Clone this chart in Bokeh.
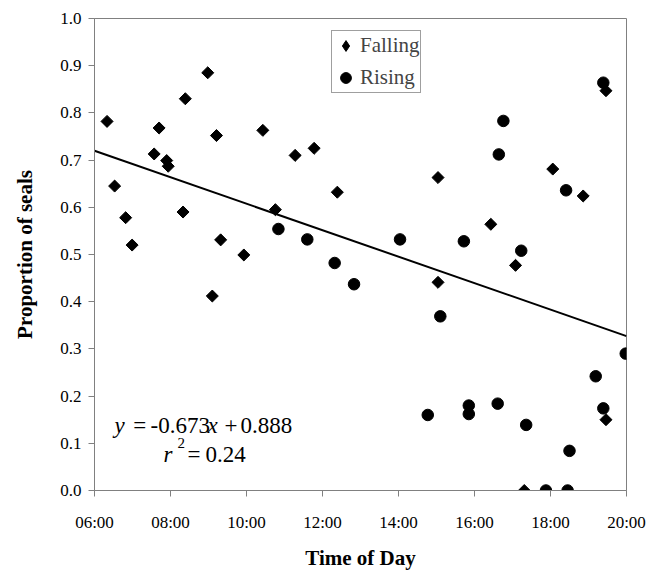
import math
from bokeh.plotting import figure
from bokeh.models import FixedTicker, Label, Legend, LegendItem
from bokeh.embed import file_html
from bokeh.resources import INLINE

# ---- data ----
falling_hours = [6.33, 6.53, 6.82, 6.99, 7.57, 7.70, 7.90, 7.94, 8.33, 8.39, 8.98, 9.10, 9.21, 9.32,
                 9.93, 10.43, 10.76, 11.28, 11.78, 12.39, 15.04, 15.04, 16.43, 17.08, 17.31, 18.06,
                 18.86, 19.46, 19.46]
falling_vals = [0.782, 0.645, 0.578, 0.520, 0.713, 0.768, 0.699, 0.687, 0.590, 0.830, 0.885, 0.412,
                0.752, 0.531, 0.499, 0.763, 0.595, 0.710, 0.725, 0.632, 0.663, 0.441, 0.564, 0.477,
                0.0, 0.681, 0.624, 0.847, 0.150]

rising_hours = [10.84, 11.60, 12.32, 12.83, 14.04, 14.77, 15.10, 15.72, 15.85, 15.85, 16.61, 16.64,
                16.76, 17.23, 17.36, 17.88, 18.41, 18.45, 18.50, 19.19, 19.39, 19.39, 19.98]
rising_vals = [0.554, 0.532, 0.482, 0.437, 0.532, 0.160, 0.369, 0.528, 0.180, 0.162, 0.184, 0.712,
               0.783, 0.508, 0.139, 0.0, 0.636, 0.0, 0.084, 0.242, 0.864, 0.174, 0.290]

fit_slope = -0.673
fit_intercept = 0.888
fit_r2 = 0.24

x_ticks = [6, 8, 10, 12, 14, 16, 18, 20]
x_tick_labels = ["06:00", "08:00", "10:00", "12:00", "14:00", "16:00", "18:00", "20:00"]
y_ticks = [0.0, 0.1, 0.2, 0.3, 0.4, 0.5, 0.6, 0.7, 0.8, 0.9, 1.0]
y_tick_labels = ["0.0", "0.1", "0.2", "0.3", "0.4", "0.5", "0.6", "0.7", "0.8", "0.9", "1.0"]

FONT = "Liberation Serif"
GRAY = "#808080"

p = figure(frame_width=532, frame_height=472, min_border_left=94, min_border_top=18,
           min_border_right=32, min_border_bottom=77,
           x_range=(6, 20), y_range=(0, 1), output_backend="svg", toolbar_location=None)
p.xgrid.visible = False
p.ygrid.visible = False
p.outline_line_color = GRAY
p.outline_line_width = 1
p.background_fill_color = "white"
p.border_fill_color = "white"

# axes
p.xaxis.ticker = FixedTicker(ticks=x_ticks)
p.xaxis.major_label_overrides = {t: l for t, l in zip(x_ticks, x_tick_labels)}
p.yaxis.ticker = FixedTicker(ticks=y_ticks)
p.yaxis.major_label_overrides = {t: l for t, l in zip(y_ticks, y_tick_labels)}
for ax in (p.xaxis, p.yaxis):
    ax.axis_line_color = GRAY
    ax.axis_line_width = 1
    ax.major_tick_line_color = GRAY
    ax.major_tick_in = 0
    ax.major_tick_out = 6
    ax.minor_tick_line_color = None
    ax.major_label_text_font = FONT
    ax.major_label_text_font_size = "17px"
    ax.major_label_text_color = "black"
    ax.axis_label_text_font = FONT
    ax.axis_label_text_font_size = "21px"
    ax.axis_label_text_font_style = "bold"
    ax.axis_label_text_color = "black"
p.xaxis.axis_label = "Time of Day"
p.yaxis.axis_label = "Proportion of seals"
p.xaxis.major_label_standoff = 16
p.xaxis.axis_label_standoff = 11
p.yaxis.major_label_standoff = 7
p.yaxis.axis_label_standoff = 20

# regression line (x as fraction of day)
lx = [x_ticks[0], x_ticks[-1]]
ly = [fit_slope * (h / 24.0) + fit_intercept for h in lx]
p.line(lx, ly, line_color="black", line_width=2)

r_fall = p.scatter(falling_hours, falling_vals, marker="square", size=8.5, angle=math.pi / 4,
                   fill_color="black", line_color="black")
r_rise = p.scatter(rising_hours, rising_vals, marker="circle", size=11.5,
                   fill_color="black", line_color="black")

# legend-only (hidden) glyph for the diamond, since the legend ignores marker rotation
r_fall_key = p.scatter(falling_hours, falling_vals, marker="diamond",
                       fill_color="black", line_color="black", visible=False)

legend = Legend(items=[LegendItem(label="Falling", renderers=[r_fall_key]),
                       LegendItem(label="Rising", renderers=[r_rise])],
                location=(237, 397))
legend.label_text_font = FONT
legend.label_text_font_size = "21px"
legend.label_height = 29
legend.border_line_color = "#404040"
legend.border_line_width = 1
legend.padding = 0
legend.spacing = 3
legend.margin = 0
legend.glyph_width = 27
legend.glyph_height = 29
legend.label_standoff = 1
legend.background_fill_alpha = 1
legend.inactive_fill_alpha = 0
p.add_layout(legend, "center")

# equation annotation
def lab(x, y, text, italic=False, size="23px"):
    p.add_layout(Label(x=x, y=y, text=text, text_font=FONT, text_font_size=size,
                       text_font_style="italic" if italic else "normal",
                       text_baseline="middle", text_align="left", text_color="black"))

lab(6.526, 0.138, "y", italic=True)
lab(7.02, 0.138, "=")
lab(7.474, 0.138, "%.3f" % fit_slope)
lab(8.974, 0.138, "x", italic=True)
lab(9.42, 0.138, "+")
lab(9.842, 0.138, "%.3f" % fit_intercept)
lab(7.816, 0.077, "r", italic=True)
lab(8.184, 0.100, "2", size="15px")
lab(8.45, 0.077, "=")
lab(8.921, 0.077, "%.2f" % fit_r2)

open("out.html", "w").write(file_html(p, INLINE))
